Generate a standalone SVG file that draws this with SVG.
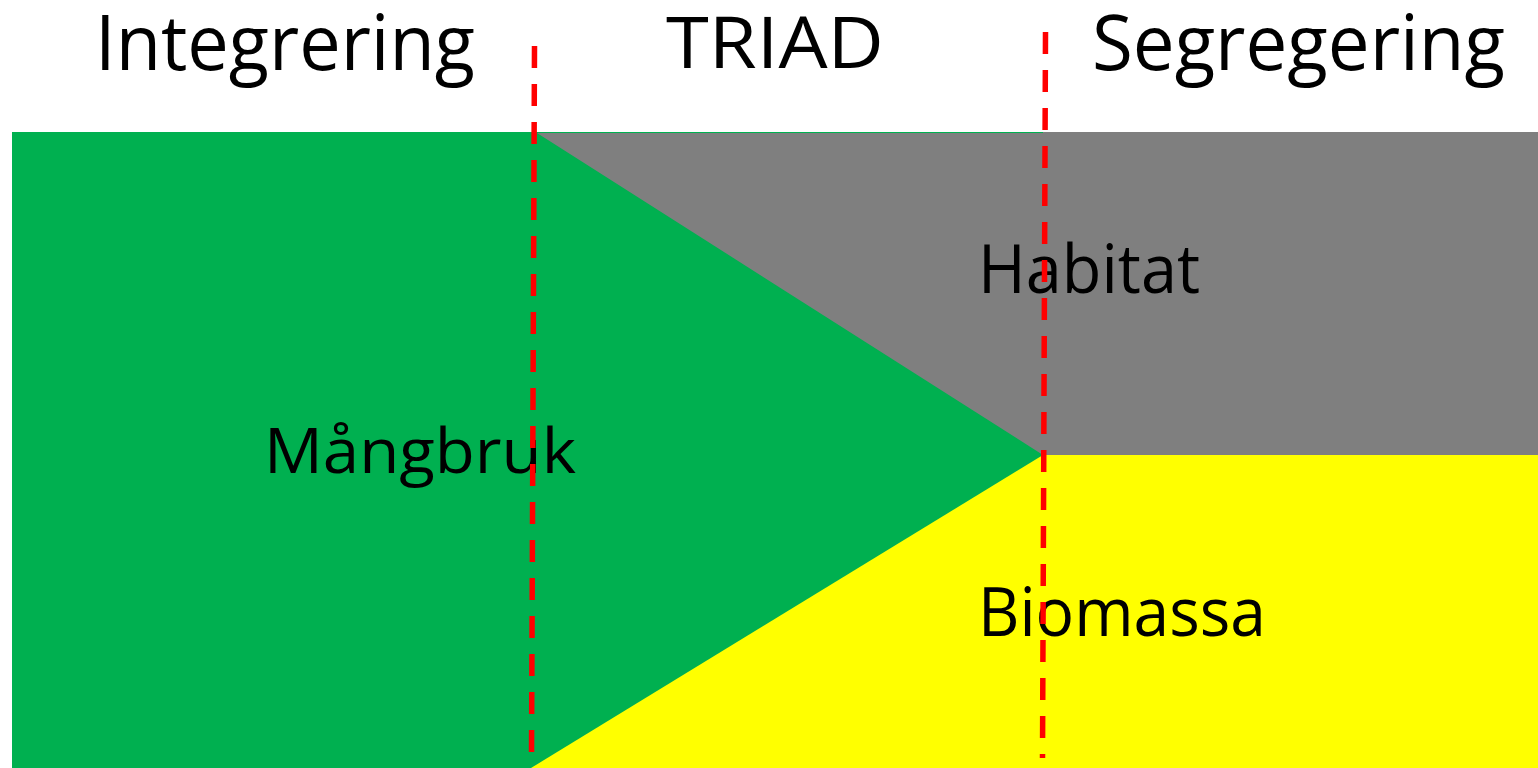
<svg xmlns="http://www.w3.org/2000/svg" width="1538" height="768" viewBox="0 0 1538 768">
<style>
.lbl{font-family:"Open Sans","Noto Sans","Liberation Sans",sans-serif;fill:#000;}
.div{stroke:#FF0000;stroke-width:5.5;stroke-dasharray:22 16;fill:none;}
</style>
<rect width="1538" height="768" fill="#FFFFFF"/>
<g id="mangbruk">
<rect x="12" y="132" width="1526" height="636" fill="#00B050"/>
<text class="lbl" x="264" y="473" font-size="63" textLength="312" lengthAdjust="spacingAndGlyphs">Mångbruk</text>
</g>
<g id="habitat">
<polygon points="537,133 1043,133 1043,132 1538,132 1538,455 1043,455" fill="#7F7F7F"/>
<text class="lbl" x="978" y="293" font-size="67" textLength="222" lengthAdjust="spacingAndGlyphs">Habitat</text>
</g>
<g id="biomassa">
<polygon points="531,768 1043,455 1538,455 1538,768" fill="#FFFF00"/>
<text class="lbl" x="978" y="636" font-size="67" textLength="288" lengthAdjust="spacingAndGlyphs">Biomassa</text>
</g>
<g id="headers">
<text class="lbl" x="95" y="70" font-size="76" textLength="380" lengthAdjust="spacingAndGlyphs">Integrering</text>
<text class="lbl" x="666" y="68" font-size="72" textLength="218" lengthAdjust="spacingAndGlyphs">TRIAD</text>
<text class="lbl" x="1092" y="70" font-size="76" textLength="413" lengthAdjust="spacingAndGlyphs">Segregering</text>
</g>
<g id="connectors">
<line class="div" x1="534.5" y1="46" x2="531.5" y2="757"/>
<line class="div" x1="1045.5" y1="32" x2="1042.5" y2="758"/>
</g>
</svg>
